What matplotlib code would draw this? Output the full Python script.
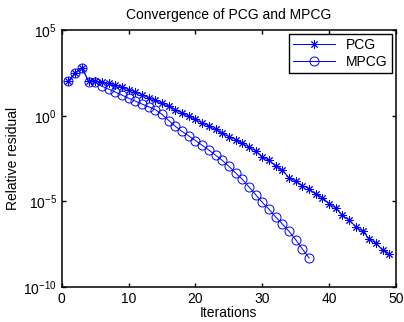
import numpy as np
import matplotlib
matplotlib.use('Agg')
import matplotlib.pyplot as plt

plt.rcParams['font.family'] = ['Liberation Sans', 'DejaVu Sans']

# log10 of relative residual
pcg_log = [2.03, 2.47, 2.81, 2.03, 2.05, 1.95, 1.88, 1.78, 1.65, 1.52,
           1.38, 1.22, 1.05, 0.90, 0.72, 0.55, 0.35, 0.15, -0.02, -0.22,
           -0.42, -0.60, -0.80, -1.02, -1.22, -1.40, -1.62, -1.82, -2.05, -2.40,
           -2.60, -2.95, -3.18, -3.62, -3.82, -4.07, -4.26, -4.59, -4.77, -5.12,
           -5.39, -5.81, -6.09, -6.47, -6.74, -7.17, -7.44, -7.83, -8.08]
mpcg_log = [2.03, 2.47, 2.81, 1.98, 1.95, 1.72, 1.55, 1.38, 1.20, 1.02,
            0.85, 0.68, 0.52, 0.35, 0.08, -0.28, -0.62, -0.92, -1.18, -1.45,
            -1.72, -2.00, -2.30, -2.60, -2.95, -3.33, -3.70, -4.15, -4.60, -5.05,
            -5.45, -5.90, -6.31, -6.74, -7.23, -7.77, -8.29]

pcg_it = np.arange(1, len(pcg_log) + 1)
mpcg_it = np.arange(1, len(mpcg_log) + 1)

fig = plt.figure(figsize=(4.04, 3.22), dpi=100)
ax = fig.add_axes([0.153, 0.108, 0.827, 0.799])

ax.semilogy(pcg_it, 10.0 ** np.array(pcg_log), color='blue', lw=0.7,
            marker=(8, 2, 0), ms=6, mew=0.7, label='PCG')
ax.semilogy(mpcg_it, 10.0 ** np.array(mpcg_log), color='blue', lw=0.7,
            marker='o', ms=6.5, mfc='none', mew=0.7, label='MPCG')

ax.set_xlim(0, 50)
ax.set_ylim(1e-10, 1e5)
ax.set_xticks([0, 10, 20, 30, 40, 50])
ax.set_yticks([1e-10, 1e-5, 1e0, 1e5])
ax.yaxis.set_minor_locator(matplotlib.ticker.NullLocator())
ax.tick_params(direction='in', top=True, right=True, labelsize=10, length=3,
               width=1)
for s in ax.spines.values():
    s.set_linewidth(1.1)

ax.set_title('Convergence of PCG and MPCG', fontsize=10, pad=8)
ax.set_xlabel('Iterations', fontsize=10, labelpad=0)
ax.set_ylabel('Relative residual', fontsize=10, labelpad=2)

leg = ax.legend(loc='upper right', fontsize=10, fancybox=False,
                edgecolor='black', framealpha=1, borderaxespad=0.3,
                handlelength=3.0, borderpad=0.3, labelspacing=0.2)
leg.get_frame().set_linewidth(1.0)

fig.savefig('out.png', dpi=100)
